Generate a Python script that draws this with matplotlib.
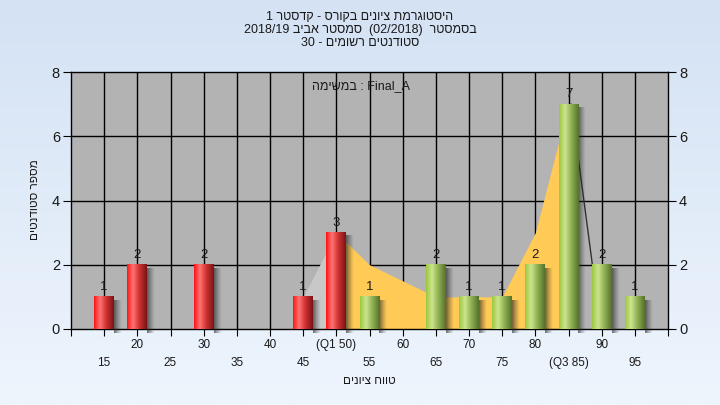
import numpy as np
import matplotlib
matplotlib.use("Agg")
import matplotlib.pyplot as plt
from matplotlib.colors import to_rgb

plt.rcParams['font.family'] = ['Liberation Sans', 'DejaVu Sans']

# ---------------- data ----------------
bins = [15, 20, 30, 45, 50, 55, 65, 70, 75, 80, 85, 90, 95]
counts = [1, 2, 2, 1, 3, 1, 2, 1, 1, 2, 7, 2, 1]
red_limit = 50  # bins <= this are red

iqr_x = [50, 55, 65, 70, 75, 80, 85]
iqr_y = [3, 2, 1, 1, 1, 3, 7]
low_x = [45, 50]
low_y = [1, 3]
outline_x = [85.4, 88.6]
outline_y = [7, 2]

row1_ticks = [20, 30, 40, 50, 60, 70, 80, 90]
row1_labels = ['20', '30', '40', '(Q1 50)', '60', '70', '80', '90']
row2_ticks = [15, 25, 35, 45, 55, 65, 75, 85, 95]
row2_labels = ['15', '25', '35', '45', '55', '65', '75', '(Q3 85)', '95']
y_ticks = [0, 2, 4, 6, 8]

# Hebrew texts in visual (display) order
title_lines = ['1 רטסדק - סרוקב םינויצ תמרגוטסיה',
               '2018/19 ביבא רטסמס  (02/2018)  רטסמסב',
               '30 - םימושר םיטנדוטס']
note_text = 'המישמב : Final_A'
x_label = 'םינויצ חווט'
y_label = 'םיטנדוטס רפסמ'

# ---------------- figure ----------------
fig = plt.figure(figsize=(7.2, 4.05), dpi=100)
bg = fig.add_axes([0, 0, 1, 1], zorder=-10)
top_c = np.array(to_rgb('#d4e2f4'))
bot_c = np.array(to_rgb('#eef5fd'))
t = np.linspace(0, 1, 256)[:, None]
grad = (top_c[None, :] * (1 - t) + bot_c[None, :] * t)[:, None, :]
bg.imshow(grad, aspect='auto', extent=[0, 1, 0, 1], origin='upper')
bg.set_axis_off()

L, R, B, T = 71 / 720, 668 / 720, 1 - 329 / 405, 1 - 72 / 405
ax = fig.add_axes([L, B, R - L, T - B])
ax.set_facecolor('#b3b3b3')
ax.set_xlim(10, 100)
ax.set_ylim(0, 8)

# grid
for gx in np.arange(15, 100, 5):
    ax.axvline(gx, color='black', lw=1.0, zorder=1)
for gy in [2, 4, 6]:
    ax.axhline(gy, color='black', lw=1.0, zorder=1)

# areas
ax.fill_between(low_x, 0, low_y, color='#c8c8c8', lw=0, zorder=2)
ax.fill_between(iqr_x, 0, iqr_y, color='#ffca55', lw=0, zorder=2)
ax.plot(outline_x, outline_y, color='#333333', lw=1.0, zorder=2.5)

# bars with cylinder shading
def shade(c_left, c_hi, c_mid, c_right, n=64):
    stops = [(0.0, c_left), (0.3, c_hi), (0.6, c_mid), (1.0, c_right)]
    xs = np.linspace(0, 1, n)
    out = np.zeros((1, n, 3))
    for k in range(3):
        out[0, :, k] = np.interp(xs, [s[0] for s in stops],
                                 [to_rgb(s[1])[k] for s in stops])
    return out

red_img = shade('#ff1414', '#ff7474', '#d33434', '#7a1414')
green_img = shade('#9cc640', '#cce58e', '#93b456', '#55722a')

w = 3.0
sh = np.zeros((1, 32, 4))
sh[0, :, :3] = 0.15
sh[0, :, 3] = np.linspace(0.7, 0.0, 32) ** 1.2
for b, c in zip(bins, counts):
    # shadow
    ax.imshow(sh, extent=[b + w / 2, b + w / 2 + 1.1, -0.12, c - 0.1],
              aspect='auto', interpolation='bilinear', zorder=3,
              clip_on=False)
    img = red_img if b <= red_limit else green_img
    ax.imshow(img, extent=[b - w / 2, b + w / 2, 0, c], aspect='auto',
              interpolation='bilinear', zorder=4)
    ax.text(b, c + 0.12, str(c), ha='center', va='bottom', fontsize=9.5,
            color='#1a1a1a', zorder=6)

ax.set_xlim(10, 100)
ax.set_ylim(0, 8)

# axes styling
for s in ax.spines.values():
    s.set_color('black')
    s.set_linewidth(1.0)
ax.set_xticks(np.arange(10, 101, 5))
ax.set_xticklabels([])
ax.tick_params(axis='x', direction='out', length=5, color='black')
ax.set_yticks(y_ticks)
ax.tick_params(axis='y', direction='out', length=6, labelsize=10.5,
               labelcolor='#1a1a1a', left=True, right=True,
               labelleft=True, labelright=True, pad=2)

xt = ax.get_xaxis_transform()
for p, lab in zip(row1_ticks, row1_labels):
    ax.text(p, -0.062, lab, transform=xt, ha='center', va='center',
            fontsize=8.5, color='#1a1a1a')
for p, lab in zip(row2_ticks, row2_labels):
    ax.text(p, -0.132, lab, transform=xt, ha='center', va='center',
            fontsize=8.5, color='#1a1a1a')
ax.text(55, -0.202, x_label, transform=xt, ha='center', va='center',
        fontsize=8.5, color='#1a1a1a')

ax.text(0.486, 0.945, note_text, transform=ax.transAxes, ha='center',
        va='center', fontsize=9, color='#1a1a1a', zorder=6)

fig.text(35 / 720, 1 - 200 / 405, y_label, rotation=90, ha='center',
         va='center', fontsize=8.5, color='#1a1a1a')

for i, line in enumerate(title_lines):
    fig.text(0.5, 1 - (17 + 13 * i) / 405, line, ha='center', va='center',
             fontsize=9, color='#1a1a1a')

fig.savefig('out.png', dpi=100)
